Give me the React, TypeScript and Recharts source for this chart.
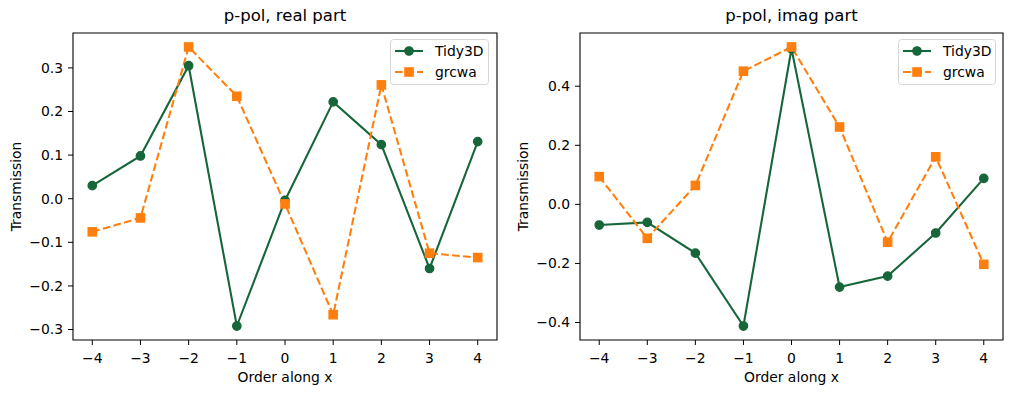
import React from "react";
import { LineChart, Line, XAxis, YAxis, ReferenceArea, Legend } from "recharts";

const orders = [-4, -3, -2, -1, 0, 1, 2, 3, 4];
const realTidy3D = [0.030, 0.098, 0.305, -0.292, -0.004, 0.222, 0.124, -0.160, 0.131];
const realGrcwa = [-0.076, -0.044, 0.348, 0.235, -0.012, -0.266, 0.261, -0.125, -0.135];
const imagTidy3D = [-0.070, -0.061, -0.165, -0.412, 0.527, -0.280, -0.243, -0.097, 0.088];
const imagGrcwa = [0.094, -0.115, 0.064, 0.451, 0.533, 0.262, -0.128, 0.161, -0.203];
const realYTicks = [-0.3, -0.2, -0.1, 0.0, 0.1, 0.2, 0.3];
const imagYTicks = [-0.4, -0.2, 0.0, 0.2, 0.4];
const titles = ["p-pol, real part", "p-pol, imag part"];
const seriesNames = ["Tidy3D", "grcwa"];
const xLabel = "Order along x";
const yLabel = "Transmission";

const GREEN = "#176639";
const ORANGE = "#ff7f0e";
const FONT = "'DejaVu Sans', sans-serif";
const FS = 13.9;

const minus = (s: string) => s.replace("-", "\u2212");

function buildData(t: number[], g: number[]) {
  return orders.map((x, i) => ({ x, tidy: t[i], grcwa: g[i] }));
}

function margins(vals: number[]): [number, number] {
  const lo = Math.min(...vals);
  const hi = Math.max(...vals);
  const r = hi - lo;
  return [lo - 0.05 * r, hi + 0.05 * r];
}

const SquareDot = (props: any) => {
  const { cx, cy } = props;
  if (cx == null || cy == null) return null;
  const s = 8.3;
  return (
    <rect x={cx - s / 2} y={cy - s / 2} width={s} height={s} fill={ORANGE} stroke={ORANGE} strokeWidth={1.3} />
  );
};

const LegendBox = ({ width }: { width: number }) => (
  <svg width={width} height={47} style={{ display: "block" }}>
    <rect x={0.5} y={0.5} width={width - 1} height={45} rx={3} ry={3} fill="rgba(255,255,255,0.8)" stroke="#d6d6d6" strokeWidth={1} />
    <line x1={5} x2={33} y1={12} y2={12} stroke={GREEN} strokeWidth={2.08} />
    <circle cx={19} cy={12} r={4.2} fill={GREEN} stroke={GREEN} strokeWidth={1.3} />
    <text x={45} y={17} fontFamily={FONT} fontSize={FS} fill="#000">{seriesNames[0]}</text>
    <line x1={5} x2={33} y1={33} y2={33} stroke={ORANGE} strokeWidth={2.08} strokeDasharray="7.7 3.3" />
    <rect x={19 - 4.15} y={33 - 4.15} width={8.3} height={8.3} fill={ORANGE} stroke={ORANGE} strokeWidth={1.3} />
    <text x={45} y={38} fontFamily={FONT} fontSize={FS} fill="#000">{seriesNames[1]}</text>
  </svg>
);

type PanelProps = {
  left: number;
  width: number;
  rightMargin: number;
  yAxisWidth: number;
  tidy: number[];
  grcwa: number[];
  yTicks: number[];
  yLabelX: number;
  legendLeft: number;
  legendWidth: number;
};

function Panel(p: PanelProps) {
  const data = buildData(p.tidy, p.grcwa);
  const [y0, y1] = margins([...p.tidy, ...p.grcwa]);
  const xDom: [number, number] = [-4.4, 4.4];
  const tickStyle = { fill: "#000", fontSize: FS, fontFamily: FONT };
  return (
    <div style={{ position: "absolute", left: p.left, top: 0 }}>
      <LineChart width={p.width} height={393} data={data} margin={{ top: 33, right: p.rightMargin, left: 0, bottom: 0 }}>
        <XAxis
          type="number"
          dataKey="x"
          domain={xDom}
          ticks={orders}
          allowDataOverflow
          height={53}
          tickSize={5}
          tickMargin={8}
          axisLine={false}
          tickLine={{ stroke: "#000", strokeWidth: 1 }}
          tick={tickStyle}
          tickFormatter={(v: number) => minus(String(v))}
          interval={0}
          label={(lp: any) => {
            const vb = lp.viewBox || {};
            return (
              <text x={vb.x + vb.width / 2} y={vb.y + 42} textAnchor="middle" fontFamily={FONT} fontSize={FS} fill="#000">
                {xLabel}
              </text>
            );
          }}
        />
        <YAxis
          type="number"
          domain={[y0, y1]}
          ticks={p.yTicks}
          allowDataOverflow
          width={p.yAxisWidth}
          tickSize={5}
          tickMargin={5}
          axisLine={false}
          tickLine={{ stroke: "#000", strokeWidth: 1 }}
          tick={tickStyle}
          interval={0}
          tickFormatter={(v: number) => minus(v.toFixed(1))}
          label={(lp: any) => {
            const vb = lp.viewBox || {};
            const cx = vb.x + p.yLabelX;
            const cy = vb.y + vb.height / 2;
            return (
              <text x={cx} y={cy} transform={`rotate(-90, ${cx}, ${cy})`} textAnchor="middle" fontFamily={FONT} fontSize={FS} fill="#000">
                {yLabel}
              </text>
            );
          }}
        />
        <Line
          dataKey="tidy"
          name={seriesNames[0]}
          stroke={GREEN}
          strokeWidth={2.08}
          isAnimationActive={false}
          dot={{ r: 4.2, fill: GREEN, stroke: GREEN, strokeWidth: 1.3 }}
          activeDot={false}
        />
        <Line
          dataKey="grcwa"
          name={seriesNames[1]}
          stroke={ORANGE}
          strokeWidth={2.08}
          strokeDasharray="7.7 3.3"
          isAnimationActive={false}
          dot={<SquareDot />}
          activeDot={false}
        />
        <ReferenceArea x1={xDom[0]} x2={xDom[1]} y1={y0} y2={y1} fill="none" stroke="#000" strokeWidth={1.1} ifOverflow="visible" />
        <Legend
          layout="vertical"
          align="center"
          verticalAlign="middle"
          content={() => <LegendBox width={p.legendWidth} />}
          wrapperStyle={{ left: p.legendLeft, top: 39, width: p.legendWidth, height: 47, right: "auto", bottom: "auto" }}
        />
      </LineChart>
    </div>
  );
}

export default function App() {
  return (
    <div style={{ position: "absolute", left: 0, top: 0, width: 1012, height: 393, background: "#fff" }}>
      <Panel
        left={0}
        width={510}
        rightMargin={13}
        yAxisWidth={73}
        tidy={realTidy3D}
        grcwa={realGrcwa}
        yTicks={realYTicks}
        yLabelX={21}
        legendLeft={390}
        legendWidth={99}
      />
      <Panel
        left={505}
        width={507}
        rightMargin={9}
        yAxisWidth={75}
        tidy={imagTidy3D}
        grcwa={imagGrcwa}
        yTicks={imagYTicks}
        yLabelX={23}
        legendLeft={393}
        legendWidth={98}
      />
      <svg width={1012} height={393} style={{ position: "absolute", left: 0, top: 0, pointerEvents: "none" }}>
        <text x={285} y={21} textAnchor="middle" fontFamily={FONT} fontSize={16.5} fill="#000">{titles[0]}</text>
        <text x={791.5} y={21} textAnchor="middle" fontFamily={FONT} fontSize={16.5} fill="#000">{titles[1]}</text>
      </svg>
    </div>
  );
}
